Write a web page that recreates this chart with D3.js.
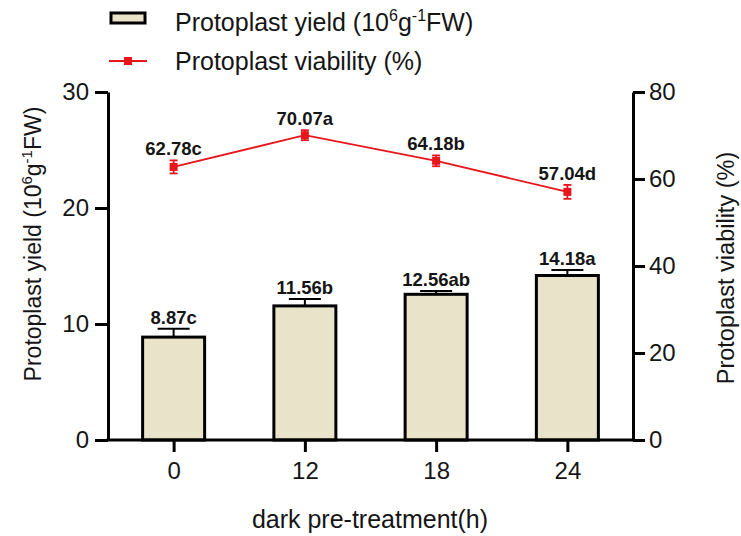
<!DOCTYPE html>
<html><head><meta charset="utf-8">
<script src="https://cdn.jsdelivr.net/npm/d3@7"></script>
<style>body{margin:0;background:#fff;} svg{display:block;font-family:Arial,"Liberation Sans",sans-serif;}</style>
</head><body><svg id="c" width="741" height="536"></svg>
<script>
const categories = ["0","12","18","24"];
const yieldValues = [8.87, 11.56, 12.56, 14.18];
const yieldErrors = [0.72, 0.6, 0.28, 0.48];
const yieldLabels = ["8.87c","11.56b","12.56ab","14.18a"];
const viabilityValues = [62.78, 70.07, 64.18, 57.04];
const viabilityErrors = [1.5, 1.15, 1.25, 1.6];
const viabilityLabels = ["62.78c","70.07a","64.18b","57.04d"];
const leftTicks = [0,10,20,30];
const rightTicks = [0,20,40,60,80];

const svg = d3.select("#c");
const L = 108, R = 633, T = 92, B = 440;
const x = d3.scalePoint().domain(categories).range([L, R]).padding(0.5);
const yL = d3.scaleLinear().domain([0,30]).range([B, T]);
const yR = d3.scaleLinear().domain([0,80]).range([B, T]);
const barW = 62;
const red = "#e8161b";
const txt = "#151515";

// bars
const g = svg.append("g");
g.selectAll("rect.bar").data(categories).join("rect")
  .attr("x", d => x(d) - barW/2).attr("y", (d,i) => yL(yieldValues[i]))
  .attr("width", barW).attr("height", (d,i) => B - yL(yieldValues[i]))
  .attr("fill", "#e9e4c9").attr("stroke", "#000").attr("stroke-width", 3);
categories.forEach((c,i) => {
  const yt = yL(yieldValues[i] + yieldErrors[i]);
  g.append("line").attr("x1", x(c)).attr("x2", x(c)).attr("y1", yL(yieldValues[i])).attr("y2", yt).attr("stroke","#000").attr("stroke-width",2);
  g.append("line").attr("x1", x(c)-16).attr("x2", x(c)+16).attr("y1", yt).attr("y2", yt).attr("stroke","#000").attr("stroke-width",2);
  g.append("text").attr("x", x(c)).attr("y", yt - 5).attr("text-anchor","middle")
    .attr("font-size", 18.5).attr("font-weight","bold").attr("fill",txt).text(yieldLabels[i]);
});

// axes
const axL = d3.axisLeft(yL).tickValues(leftTicks).tickSize(13).tickPadding(6);
const axR = d3.axisRight(yR).tickValues(rightTicks).tickSize(12).tickPadding(4);
const axB = d3.axisBottom(x).tickSize(12).tickPadding(10);
function style(sel){
  sel.selectAll("path,line").attr("stroke","#000").attr("stroke-width",3);
  sel.selectAll("text").attr("font-size",24).attr("fill",txt).attr("font-family","Arial, 'Liberation Sans', sans-serif");
}
svg.append("g").attr("transform",`translate(${L},0)`).call(axL.tickSizeOuter(0)).call(style);
svg.append("g").attr("transform",`translate(${R},0)`).call(axR.tickSizeOuter(0)).call(style);
const xg = svg.append("g").attr("transform",`translate(0,${B})`).call(axB.tickSizeOuter(0)).call(style);
xg.select("path").attr("d", `M${L-1.5},0H${R+1.5}`);

// line
const line = d3.line().x((d,i) => x(categories[i])).y(d => yR(d));
svg.append("path").datum(viabilityValues).attr("d", line).attr("fill","none").attr("stroke",red).attr("stroke-width",1.8);
categories.forEach((c,i) => {
  const v = viabilityValues[i], e = viabilityErrors[i];
  const cx = x(c);
  svg.append("line").attr("x1",cx).attr("x2",cx).attr("y1",yR(v+e)).attr("y2",yR(v-e)).attr("stroke",red).attr("stroke-width",1.8);
  [v+e, v-e].forEach(w => svg.append("line").attr("x1",cx-4).attr("x2",cx+4).attr("y1",yR(w)).attr("y2",yR(w)).attr("stroke",red).attr("stroke-width",1.8));
  svg.append("rect").attr("x",cx-4).attr("y",yR(v)-4).attr("width",8).attr("height",8).attr("fill",red);
  svg.append("text").attr("x",cx).attr("y",yR(v+e)-5).attr("text-anchor","middle")
    .attr("font-size",18.5).attr("font-weight","bold").attr("fill",txt).text(viabilityLabels[i]);
});

// axis titles
const lt = svg.append("text").attr("transform","translate(41,244) rotate(-90)").attr("text-anchor","middle").attr("font-size",23).attr("fill",txt);
lt.append("tspan").text("Protoplast yield (10");
lt.append("tspan").attr("font-size",15).attr("dy",-9).text("6");
lt.append("tspan").attr("dy",9).text("g");
lt.append("tspan").attr("font-size",15).attr("dy",-9).text("-1");
lt.append("tspan").attr("dy",9).text("FW)");

svg.append("text").attr("transform","translate(734,268) rotate(-90)").attr("text-anchor","middle").attr("font-size",23.5).attr("fill",txt).text("Protoplast viability (%)");
svg.append("text").attr("x",370).attr("y",528).attr("text-anchor","middle").attr("font-size",25).attr("fill",txt).text("dark pre-treatment(h)");

// legend
svg.append("rect").attr("x",111).attr("y",13).attr("width",34).attr("height",10).attr("fill","#e9e4c9").attr("stroke","#000").attr("stroke-width",3);
const t1 = svg.append("text").attr("x",175).attr("y",31).attr("font-size",25).attr("fill",txt);
t1.append("tspan").text("Protoplast yield (10");
t1.append("tspan").attr("font-size",16).attr("dy",-10).text("6");
t1.append("tspan").attr("dy",10).text("g");
t1.append("tspan").attr("font-size",16).attr("dy",-10).text("-1");
t1.append("tspan").attr("dy",10).text("FW)");
svg.append("line").attr("x1",109).attr("x2",147).attr("y1",61).attr("y2",61).attr("stroke",red).attr("stroke-width",1.8);
svg.append("rect").attr("x",124).attr("y",57).attr("width",8).attr("height",8).attr("fill",red);
svg.append("text").attr("x",175).attr("y",70).attr("font-size",25).attr("fill",txt).text("Protoplast viability (%)");
</script></body></html>
